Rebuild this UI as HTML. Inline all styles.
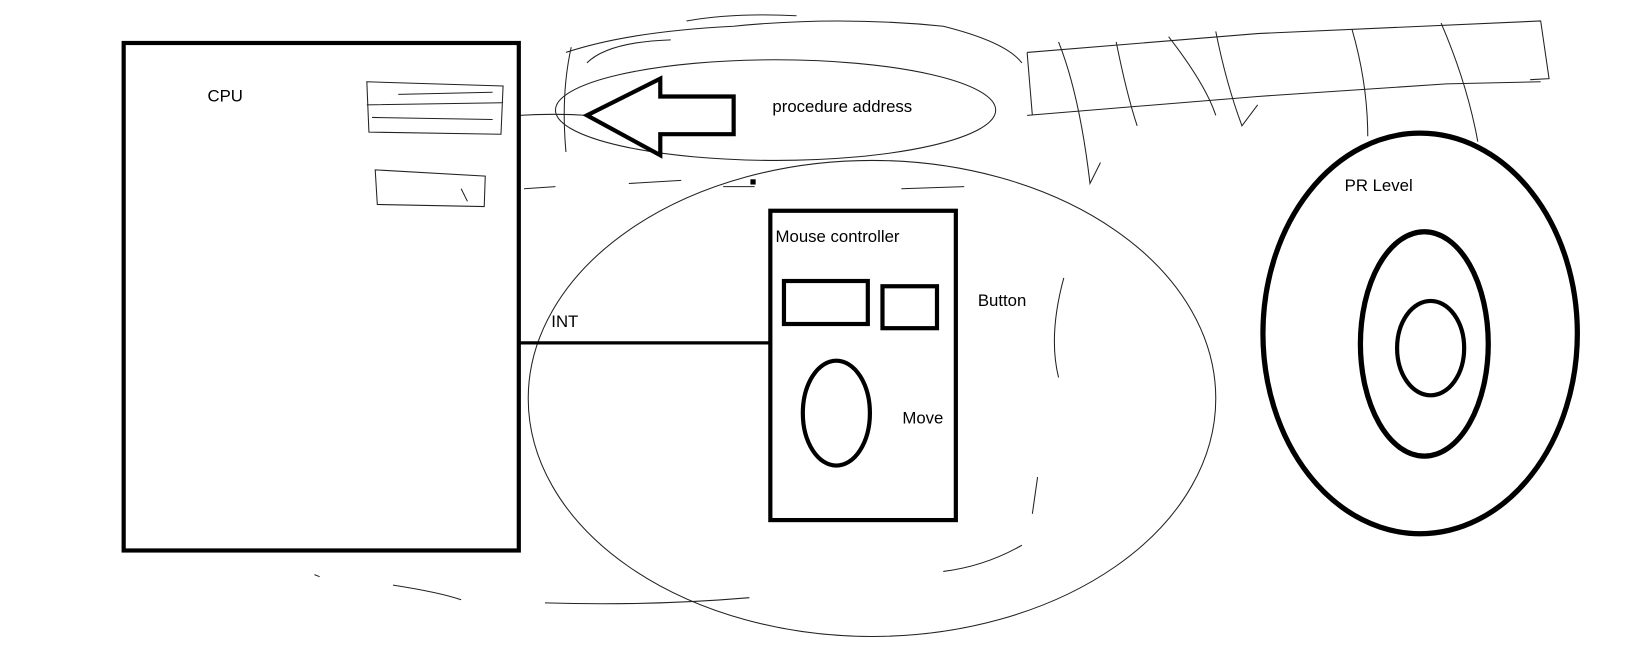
<!DOCTYPE html>
<html><head><style>html,body{margin:0;padding:0;background:#fff;}svg{display:block}</style></head>
<body>
<svg width="1635" height="648" viewBox="0 0 1560 618" preserveAspectRatio="none" xmlns="http://www.w3.org/2000/svg" font-family="Liberation Sans, sans-serif" font-size="16">
<rect width="1560" height="618" fill="#fff"/>
<g fill="none" stroke="#000">
<g stroke-width="1" stroke="#222">
<ellipse cx="832" cy="380" rx="328" ry="227"/>
<ellipse cx="740" cy="105" rx="210" ry="48"/>
<path d="M540 50 Q600 30 700 25 Q800 15 900 25 Q960 40 975 60 M545 45 Q535 90 540 145 M560 60 Q580 40 640 38 M655 20 Q700 12 760 15"/>
<path d="M350 78 L480 82 L478 128 L352 126 Z M350 100 L480 98 M380 90 L470 88 M355 112 L470 114"/>
<path d="M358 162 L463 168 L462 197 L360 195 Z M440 180 L446 192"/>
<path d="M495 110 Q530 108 560 110 M500 180 L530 178 M600 175 L650 172 M690 178 L720 178 M860 180 L920 178"/>
<path d="M980 50 L1200 32 L1470 20 L1478 75 L1460 76 M980 110 L1200 92 L1380 80 L1470 78 M980 50 L985 110"/>
<path d="M1010 40 Q1030 90 1040 175 L1050 155 M1065 40 Q1075 90 1085 120 M1115 35 Q1150 80 1160 110 M1160 30 Q1170 80 1185 120 L1200 100 M1290 28 Q1305 80 1305 130 M1375 22 Q1400 80 1410 135"/>
<path d="M1015 265 Q1000 320 1010 360 M990 455 L985 490 M975 520 Q940 540 900 545 M300 548 L305 550 M375 558 Q420 565 440 572 M520 575 Q620 578 715 570"/>
</g>
<rect x="118" y="41" width="377" height="484" stroke-width="4"/>
<path d="M560 110 L630 75 L630 92 L700 92 L700 128 L630 128 L630 148 Z" stroke-width="4" stroke-linejoin="miter"/>
<line x1="495" y1="327" x2="735" y2="327" stroke-width="3"/>
<rect x="735" y="201" width="177" height="295" stroke-width="4"/>
<rect x="748" y="268" width="80" height="41" stroke-width="4"/>
<rect x="842" y="273" width="52" height="40" stroke-width="4"/>
<ellipse cx="798" cy="394" rx="32" ry="50" stroke-width="4"/>
<ellipse cx="1355" cy="318" rx="150" ry="191" stroke-width="5"/>
<ellipse cx="1359" cy="328" rx="61" ry="107" stroke-width="5"/>
<ellipse cx="1365" cy="332" rx="32" ry="45" stroke-width="4"/>
</g>
<rect x="716" y="171" width="5" height="5" fill="#000"/>
<g fill="#000">
<text x="198" y="97">CPU</text>
<text x="737" y="107">procedure address</text>
<text x="740" y="231">Mouse controller</text>
<text x="933" y="292">Button</text>
<text x="526" y="312">INT</text>
<text x="861" y="404">Move</text>
<text x="1283" y="182">PR Level</text>
</g>
</svg>
</body></html>
